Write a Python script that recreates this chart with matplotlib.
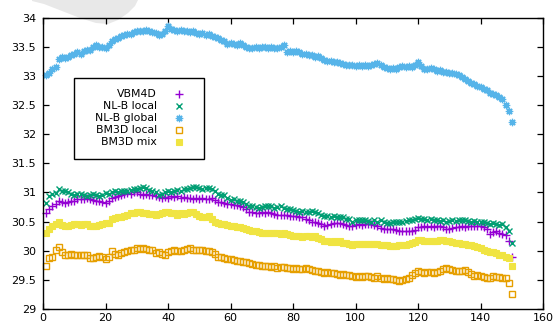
import numpy as np
import matplotlib
matplotlib.use("Agg")
import matplotlib.pyplot as plt
from matplotlib.patches import Polygon, Rectangle

x_vals = list(range(1, 151))

vbm4d = [
    30.65, 30.72, 30.76, 30.80, 30.85, 30.83, 30.82, 30.84, 30.85, 30.86,
    30.88, 30.89, 30.88, 30.90, 30.89, 30.87, 30.86, 30.85, 30.84, 30.82,
    30.86, 30.90, 30.92, 30.94, 30.96, 30.97, 30.99, 30.98, 31.00, 31.00,
    30.98, 30.96, 30.97, 30.96, 30.95, 30.94, 30.92, 30.90, 30.92, 30.91,
    30.93, 30.92, 30.93, 30.91, 30.92, 30.90, 30.91, 30.89, 30.90, 30.89,
    30.90, 30.89, 30.88, 30.90, 30.87, 30.84, 30.83, 30.82, 30.80, 30.80,
    30.79, 30.78, 30.76, 30.75, 30.72, 30.67, 30.66, 30.65, 30.65, 30.66,
    30.64, 30.66, 30.65, 30.63, 30.62, 30.62, 30.61, 30.62, 30.60, 30.60,
    30.59, 30.58, 30.57, 30.55, 30.52, 30.50, 30.49, 30.48, 30.46, 30.43,
    30.44, 30.46, 30.47, 30.48, 30.48, 30.46, 30.44, 30.43, 30.43, 30.44,
    30.45, 30.44, 30.45, 30.46, 30.45, 30.44, 30.42, 30.39, 30.38, 30.37,
    30.38, 30.37, 30.36, 30.34, 30.33, 30.34, 30.33, 30.34, 30.36, 30.41,
    30.41, 30.42, 30.41, 30.42, 30.41, 30.42, 30.42, 30.40, 30.38, 30.37,
    30.39, 30.40, 30.41, 30.42, 30.41, 30.42, 30.43, 30.42, 30.43, 30.43,
    30.40, 30.37, 30.28, 30.32, 30.33, 30.30, 30.28, 30.27, 30.16, 29.89,
]

nlb_local = [
    30.82, 30.93, 30.97, 30.99, 31.06, 31.02, 31.03, 31.00, 30.98, 30.96,
    30.97, 30.97, 30.95, 30.93, 30.95, 30.97, 30.95, 30.93, 30.95, 30.99,
    30.97, 31.00, 31.02, 31.01, 31.02, 31.03, 31.02, 31.04, 31.05, 31.06,
    31.08, 31.10, 31.07, 31.04, 31.02, 31.00, 30.96, 30.98, 31.00, 31.02,
    31.01, 31.03, 31.04, 31.03, 31.05, 31.06, 31.08, 31.09, 31.10, 31.07,
    31.06, 31.08, 31.07, 31.05, 31.02, 30.98, 30.96, 30.95, 30.90, 30.87,
    30.88, 30.86, 30.85, 30.83, 30.80, 30.77, 30.76, 30.75, 30.74, 30.75,
    30.76, 30.77, 30.76, 30.74, 30.75, 30.76, 30.74, 30.72, 30.71, 30.70,
    30.68, 30.67, 30.68, 30.67, 30.66, 30.68, 30.67, 30.64, 30.62, 30.60,
    30.59, 30.58, 30.59, 30.57, 30.57, 30.58, 30.55, 30.54, 30.50, 30.52,
    30.53, 30.52, 30.53, 30.51, 30.50, 30.52, 30.50, 30.53, 30.50, 30.48,
    30.48, 30.50, 30.49, 30.50, 30.50, 30.51, 30.52, 30.53, 30.55, 30.56,
    30.55, 30.54, 30.53, 30.54, 30.52, 30.53, 30.51, 30.52, 30.50, 30.51,
    30.52, 30.51, 30.53, 30.52, 30.53, 30.51, 30.50, 30.51, 30.50, 30.50,
    30.49, 30.47, 30.46, 30.47, 30.45, 30.44, 30.45, 30.40, 30.33, 30.13,
]

nlb_global = [
    33.01, 33.05, 33.12, 33.15, 33.28, 33.32, 33.30, 33.32, 33.35, 33.38,
    33.40, 33.38, 33.42, 33.45, 33.44, 33.50, 33.52, 33.50, 33.49, 33.48,
    33.52, 33.60, 33.63, 33.65, 33.68, 33.70, 33.71, 33.72, 33.75, 33.76,
    33.77, 33.76, 33.78, 33.77, 33.75, 33.74, 33.70, 33.72, 33.76, 33.86,
    33.80, 33.78, 33.77, 33.78, 33.76, 33.77, 33.75, 33.77, 33.74, 33.72,
    33.73, 33.70, 33.71, 33.68, 33.67, 33.65, 33.62, 33.60, 33.55, 33.57,
    33.55, 33.53, 33.56, 33.52, 33.50, 33.48, 33.47, 33.50, 33.47, 33.49,
    33.50, 33.47, 33.49, 33.48, 33.47, 33.50, 33.52, 33.40, 33.42, 33.41,
    33.43, 33.40, 33.38, 33.37, 33.36, 33.35, 33.33, 33.34, 33.30, 33.27,
    33.26, 33.25, 33.24, 33.23, 33.22, 33.21, 33.19, 33.18, 33.18, 33.17,
    33.18, 33.17, 33.18, 33.17, 33.19, 33.20, 33.22, 33.18, 33.15, 33.13,
    33.11, 33.14, 33.12, 33.15, 33.16, 33.15, 33.17, 33.15, 33.18, 33.24,
    33.16, 33.12, 33.11, 33.13, 33.11, 33.09, 33.10, 33.07, 33.06, 33.05,
    33.04, 33.03, 33.01, 32.98, 32.94, 32.91, 32.88, 32.86, 32.83, 32.80,
    32.78, 32.75, 32.71, 32.69, 32.67, 32.64, 32.60, 32.50, 32.40, 32.20,
]

bm3d_local = [
    29.73, 29.88, 29.89, 30.02, 30.06, 29.97, 29.93, 29.93, 29.94, 29.93,
    29.93, 29.93, 29.92, 29.93, 29.88, 29.87, 29.90, 29.91, 29.90, 29.85,
    29.90, 29.99, 29.95, 29.93, 29.96, 29.97, 30.00, 30.01, 30.02, 30.05,
    30.03, 30.04, 30.03, 30.02, 30.01, 29.96, 29.97, 29.95, 29.93, 29.97,
    30.00, 30.01, 29.99, 30.00, 30.02, 30.03, 30.04, 30.02, 30.01, 30.02,
    30.01, 30.00, 29.99, 29.98, 29.95, 29.90, 29.89, 29.88, 29.86, 29.85,
    29.84, 29.83, 29.82, 29.81, 29.80, 29.79, 29.78, 29.76, 29.75, 29.73,
    29.74, 29.73, 29.72, 29.73, 29.71, 29.72, 29.72, 29.70, 29.71, 29.69,
    29.70, 29.69, 29.68, 29.70, 29.68, 29.67, 29.66, 29.65, 29.64, 29.62,
    29.63, 29.62, 29.61, 29.60, 29.59, 29.60, 29.58, 29.59, 29.57, 29.55,
    29.56, 29.55, 29.56, 29.57, 29.55, 29.54, 29.56, 29.53, 29.52, 29.53,
    29.51, 29.52, 29.50, 29.48, 29.50, 29.52, 29.53, 29.58, 29.62, 29.65,
    29.63, 29.62, 29.64, 29.63, 29.62, 29.64, 29.66, 29.69, 29.71, 29.68,
    29.67, 29.66, 29.65, 29.66, 29.67, 29.64, 29.60, 29.57, 29.58, 29.56,
    29.55, 29.53, 29.54, 29.56, 29.55, 29.55, 29.54, 29.54, 29.44, 29.25,
]

bm3d_mix = [
    30.30, 30.38, 30.42, 30.45, 30.50, 30.44, 30.42, 30.43, 30.44, 30.45,
    30.45, 30.44, 30.46, 30.45, 30.42, 30.43, 30.42, 30.44, 30.46, 30.47,
    30.48, 30.55, 30.56, 30.57, 30.58, 30.60, 30.62, 30.64, 30.65, 30.67,
    30.66, 30.65, 30.64, 30.63, 30.63, 30.62, 30.63, 30.64, 30.67, 30.66,
    30.65, 30.64, 30.62, 30.64, 30.63, 30.65, 30.67, 30.66, 30.63, 30.60,
    30.58, 30.57, 30.59, 30.55, 30.50, 30.48, 30.46, 30.45, 30.44, 30.43,
    30.42, 30.41, 30.40, 30.39, 30.38, 30.36, 30.34, 30.33, 30.32, 30.31,
    30.30, 30.31, 30.30, 30.31, 30.30, 30.29, 30.30, 30.28, 30.27, 30.26,
    30.26, 30.25, 30.24, 30.25, 30.25, 30.24, 30.25, 30.22, 30.20, 30.17,
    30.16, 30.15, 30.16, 30.15, 30.16, 30.14, 30.13, 30.12, 30.10, 30.11,
    30.12, 30.11, 30.12, 30.11, 30.12, 30.11, 30.12, 30.10, 30.09, 30.09,
    30.08, 30.08, 30.08, 30.09, 30.10, 30.10, 30.11, 30.13, 30.15, 30.19,
    30.18, 30.17, 30.16, 30.17, 30.16, 30.17, 30.18, 30.19, 30.17, 30.16,
    30.15, 30.14, 30.13, 30.12, 30.11, 30.10, 30.09, 30.08, 30.06, 30.05,
    30.02, 29.99, 29.98, 29.97, 29.96, 29.93, 29.93, 29.90, 29.87, 29.73,
]

series_labels = ["VBM4D", "NL-B local", "NL-B global", "BM3D local", "BM3D mix"]
x_ticks = [0, 20, 40, 60, 80, 100, 120, 140, 160]
y_ticks = [29, 29.5, 30, 30.5, 31, 31.5, 32, 32.5, 33, 33.5, 34]

W, H = 557, 327
fig = plt.figure(figsize=(W / 100, H / 100), dpi=100)
fig.patch.set_facecolor("white")

AX_L, AX_R, AX_T, AX_B = 43, 543, 17.5, 309
ax = fig.add_axes([AX_L / W, 1 - AX_B / H, (AX_R - AX_L) / W, (AX_B - AX_T) / H])
ax.set_facecolor("none")

# gray swoosh artifact at the top-left
swoosh_px = [(32, 0), (138, 0), (135, 6), (128, 13), (118, 20), (108, 24),
             (96, 23), (80, 18), (62, 11), (44, 4), (32, 1)]
poly = Polygon([(px / W, 1 - py / H) for px, py in swoosh_px], closed=True,
               transform=fig.transFigure, facecolor="#e8e8e8", edgecolor="none",
               zorder=-1)
fig.patches.append(poly)

styles = [
    dict(marker="+", color="#9400d3", ms=5.5, mew=1.0, ls="none", mfc="none"),
    dict(marker="x", color="#009e73", ms=4.8, mew=1.0, ls="none", mfc="none"),
    dict(marker=(8, 2, 0), color="#56b4e9", ms=5.3, mew=0.9, ls="none", mfc="none"),
    dict(marker="s", color="#e69f00", ms=4.8, mew=1.0, ls="none", mfc="none"),
    dict(marker="s", color="#f0e442", ms=4.8, mew=0.8, ls="none", mfc="#f0e442"),
]
data = [vbm4d, nlb_local, nlb_global, bm3d_local, bm3d_mix]
for ys, st in zip(data, styles):
    ax.plot(x_vals, ys, **st, clip_on=False)

ax.set_xlim(0, 160)
ax.set_ylim(29, 34)
ax.set_xticks(x_ticks)
ax.set_yticks(y_ticks)
ax.set_xticklabels([f"{v:g}" for v in x_ticks])
ax.set_yticklabels([f"{v:g}" for v in y_ticks])
ax.tick_params(direction="in", top=True, right=True, length=4.5, width=0.9,
               labelsize=8, colors="black")
ax.tick_params(axis="y", pad=5)
ax.tick_params(axis="x", pad=3)
for s in ax.spines.values():
    s.set_linewidth(1.0)
    s.set_color("black")

# legend box (gnuplot-style, text right-aligned, markers on the right)
def to_ax(px, py):
    return ((px - AX_L) / (AX_R - AX_L), (AX_B - py) / (AX_B - AX_T))

bx0, by0 = to_ax(74, 159)
bx1, by1 = to_ax(204, 78)
ax.add_patch(Rectangle((bx0, by0), bx1 - bx0, by1 - by0, transform=ax.transAxes,
                       facecolor="white", edgecolor="black", linewidth=1.0, zorder=5))
row_py = [94.3, 106.3, 118.3, 130.3, 142.3]
for lab, st, py in zip(series_labels, styles, row_py):
    tx, ty = to_ax(157, py)
    ax.text(tx, ty, lab, transform=ax.transAxes, ha="right", va="center",
            fontsize=7.8, zorder=6)
    mx, my = to_ax(179, py)
    ax.plot([mx], [my], transform=ax.transAxes, zorder=6, clip_on=False, **st)

fig.savefig("out.png", dpi=100)
